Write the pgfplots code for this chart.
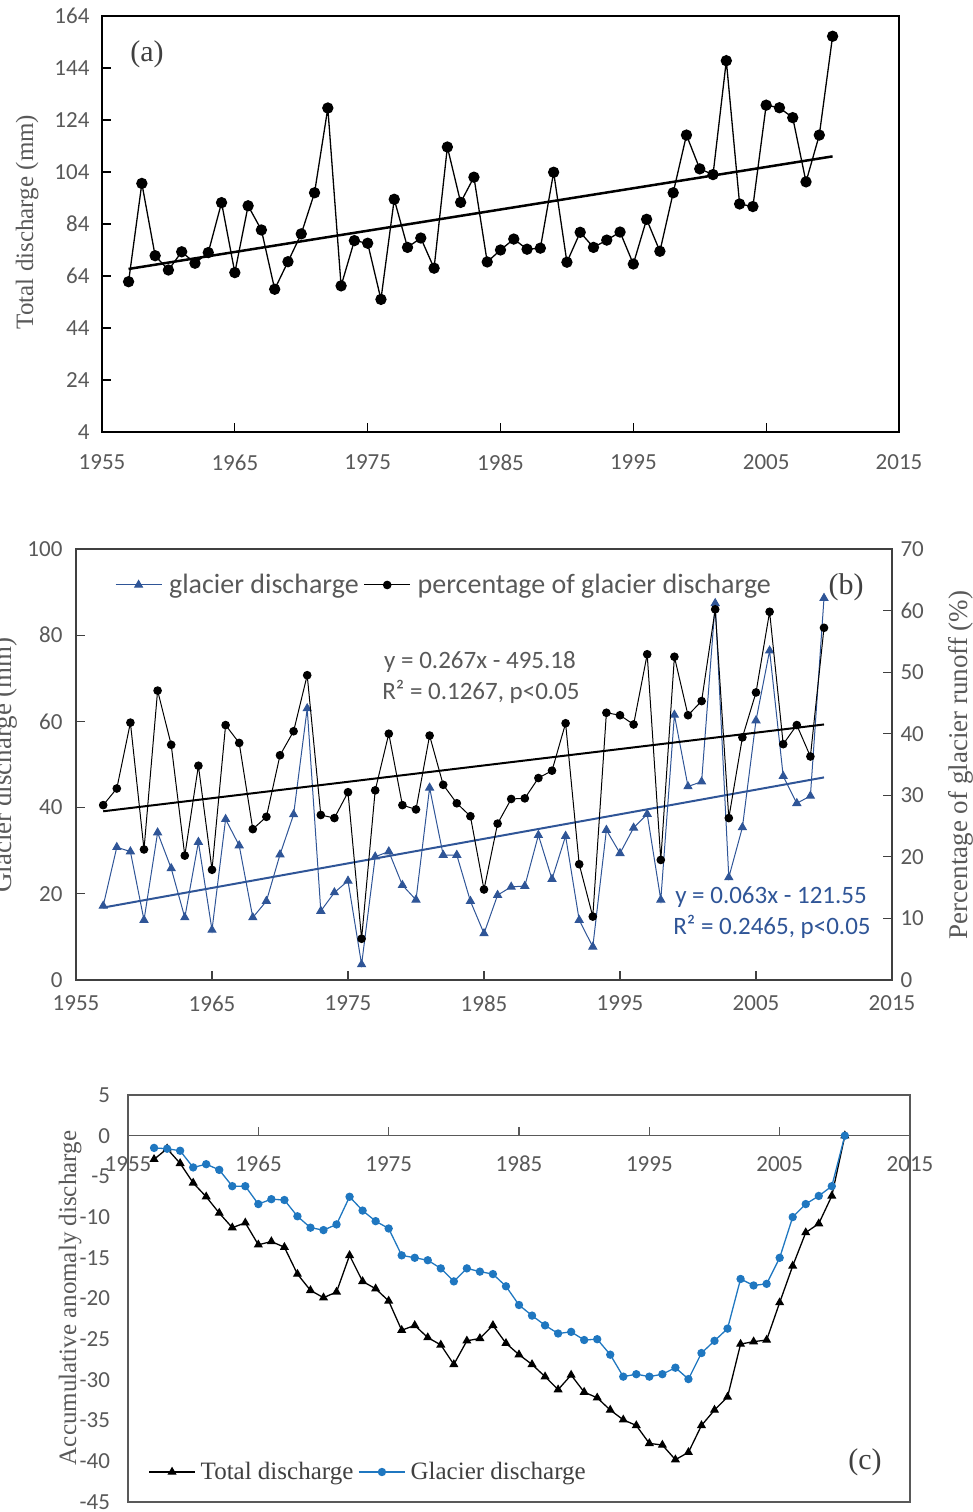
\documentclass[border=0pt]{standalone}
\usepackage{fontspec}
\setmainfont{Liberation Serif}
\newfontfamily\carlito{Carlito}
\usepackage{pgfplots}
\pgfplotsset{compat=1.18}
\definecolor{tg}{HTML}{595959}
\definecolor{dg}{HTML}{404040}
\definecolor{bb}{HTML}{2F5597}
\definecolor{cb}{HTML}{1F77C0}
\pgfplotsset{
 common/.style={scale only axis, anchor=south west, xmin=1955, xmax=2015,
   xtick={1955,1965,...,2015}, tick align=inside,
   /pgf/number format/assume math mode=true, /pgf/number format/1000 sep={},
   tick label style={font=\carlito\fontsize{23}{27}\selectfont, text=tg},
   major tick length=9pt, clip=false},
 legimg/.style={legend image code/.code={\draw[mark repeat=2,mark phase=2,##1] plot coordinates {(0pt,0pt) (23pt,0pt) (46pt,0pt)};}},
}
\begin{document}
\begin{tikzpicture}
\path[use as bounding box] (0,0) rectangle (973pt,1512pt);
% ---------- (a)
\begin{axis}[common, at={(102pt,1080pt)}, width=797pt, height=416pt,
  ymin=4, ymax=164, ytick={4,24,...,164}, xtick pos=bottom, ytick pos=left,
  axis line style={black, line width=1.2pt}, tick style={black, line width=1.2pt},
  xticklabel style={yshift=-19pt}, yticklabel style={xshift=-9pt}]
\addplot[black, line width=1.3pt, mark=*, mark size=5pt] coordinates {
(1957,61.8) (1958,99.6) (1959,71.8) (1960,66.3) (1961,73.3) (1962,68.9) (1963,73.0) (1964,92.2) (1965,65.3) (1966,91.0)
(1967,81.7) (1968,58.9) (1969,69.5) (1970,80.2) (1971,96.0) (1972,128.6) (1973,60.2) (1974,77.6) (1975,76.6) (1976,55.0)
(1977,93.5) (1978,75.0) (1979,78.6) (1980,67.0) (1981,113.6) (1982,92.3) (1983,102.0) (1984,69.4) (1985,74.0) (1986,78.2)
(1987,74.3) (1988,74.7) (1989,103.9) (1990,69.3) (1991,80.8) (1992,75.0) (1993,77.8) (1994,80.9) (1995,68.6) (1996,85.8)
(1997,73.5) (1998,96.0) (1999,118.2) (2000,105.2) (2001,103.0) (2002,146.8) (2003,91.7) (2004,90.7) (2005,129.7) (2006,128.7)
(2007,124.9) (2008,100.2) (2009,118.2) (2010,156.2)};
\addplot[black, line width=2.5pt] coordinates {(1957,66.7) (2010,110.0)};
\end{axis}
% ---------- (b) left axis
\begin{axis}[common, at={(76pt,532pt)}, width=816pt, height=431pt,
  ymin=0, ymax=100, ytick={0,20,...,100}, xtick pos=bottom, ytick pos=left,
  axis line style={dg, line width=1.2pt}, tick style={dg, line width=1.2pt},
  xticklabel style={yshift=-12pt}, yticklabel style={xshift=-10pt}]
\addplot[bb, line width=1pt, mark=triangle*, mark size=4.5pt] coordinates {
(1957,17.2) (1958,30.8) (1959,29.8) (1960,13.9) (1961,34.2) (1962,25.9) (1963,14.5) (1964,32.0) (1965,11.6) (1966,37.3)
(1967,31.2) (1968,14.5) (1969,18.3) (1970,29.1) (1971,38.4) (1972,63.0) (1973,16.0) (1974,20.3) (1975,23.0) (1976,3.6)
(1977,28.6) (1978,29.8) (1979,22.0) (1980,18.6) (1981,44.6) (1982,29.0) (1983,29.0) (1984,18.3) (1985,10.8) (1986,19.7)
(1987,21.6) (1988,21.8) (1989,33.6) (1990,23.4) (1991,33.4) (1992,13.9) (1993,7.7) (1994,34.8) (1995,29.4) (1996,35.3)
(1997,38.5) (1998,18.6) (1999,61.5) (2000,44.9) (2001,46.0) (2002,87.4) (2003,23.8) (2004,35.4) (2005,60.2) (2006,76.4)
(2007,47.3) (2008,41.0) (2009,42.7) (2010,88.6)};
\addplot[bb, line width=2pt] coordinates {(1957,16.8) (2010,47.0)};
\end{axis}
% ---------- (b) right axis
\begin{axis}[common, at={(76pt,532pt)}, width=816pt, height=431pt,
  ymin=0, ymax=70, ytick={0,10,...,70}, axis x line=none, axis y line*=right,
  axis line style={dg, line width=1.2pt}, tick style={dg, line width=1.2pt},
  yticklabel style={xshift=5pt}, legimg,
  legend columns=2,
  legend style={draw=none, fill=none, at={(0.044,0.9165)}, anchor=west,
    font=\carlito\fontsize{28}{32}\selectfont, text=tg,
    /tikz/every odd column/.append style={column sep=5pt},
    /tikz/every even column/.append style={column sep=3pt}}]
\addlegendimage{bb, line width=1pt, mark=triangle*, mark size=4.5pt}
\addlegendentry{glacier discharge}
\addplot[black, line width=1pt, mark=*, mark size=3.8pt] coordinates {
(1957,28.4) (1958,31.1) (1959,41.8) (1960,21.2) (1961,47.0) (1962,38.2) (1963,20.2) (1964,34.8) (1965,17.9) (1966,41.4)
(1967,38.5) (1968,24.5) (1969,26.5) (1970,36.5) (1971,40.4) (1972,49.5) (1973,26.8) (1974,26.3) (1975,30.5) (1976,6.7)
(1977,30.8) (1978,40.0) (1979,28.4) (1980,27.7) (1981,39.7) (1982,31.7) (1983,28.7) (1984,26.6) (1985,14.7) (1986,25.4)
(1987,29.4) (1988,29.5) (1989,32.8) (1990,34.0) (1991,41.7) (1992,18.8) (1993,10.3) (1994,43.4) (1995,43.0) (1996,41.5)
(1997,52.9) (1998,19.5) (1999,52.5) (2000,43.0) (2001,45.3) (2002,60.2) (2003,26.3) (2004,39.4) (2005,46.7) (2006,59.8)
(2007,38.3) (2008,41.4) (2009,36.3) (2010,57.2)};
\addlegendentry{percentage of glacier discharge}
\addplot[black, line width=2pt, forget plot] coordinates {(1957,27.4) (2010,41.5)};
\end{axis}
% ---------- (c)
\begin{axis}[common, at={(128pt,10pt)}, width=782pt, height=407pt,
  ymin=-45, ymax=5, ytick={-45,-40,...,5}, axis x line=middle, axis y line=left,
  xtick align=inside,
  hide obscured x ticks=false, hide obscured y ticks=false,
  axis line style={-, tg, line width=1.2pt}, ytick style={draw=none},
  xtick style={tg, line width=1.2pt},
  xticklabel style={yshift=-17pt}, yticklabel style={xshift=-10pt},
  after end axis/.code={\draw[tg, line width=1.2pt] (rel axis cs:0,0) rectangle (rel axis cs:1,1);},
  legimg, legend columns=2,
  legend style={draw=none, fill=none, at={(0.022,0.0737)}, anchor=west,
    font=\fontsize{25}{29}\selectfont, text=dg,
    /tikz/every odd column/.append style={column sep=3pt},
    /tikz/every even column/.append style={column sep=3pt}}]
\addplot[black, line width=1.3pt, mark=triangle*, mark size=4pt] coordinates {
(1957,-2.9) (1958,-1.6) (1959,-3.4) (1960,-5.8) (1961,-7.5) (1962,-9.5) (1963,-11.3) (1964,-10.7) (1965,-13.4) (1966,-13.0)
(1967,-13.7) (1968,-17.0) (1969,-19.0) (1970,-19.9) (1971,-19.2) (1972,-14.7) (1973,-17.9) (1974,-18.8) (1975,-20.3) (1976,-23.9)
(1977,-23.3) (1978,-24.8) (1979,-25.7) (1980,-28.1) (1981,-25.2) (1982,-24.9) (1983,-23.3) (1984,-25.5) (1985,-26.9) (1986,-28.1)
(1987,-29.6) (1988,-31.2) (1989,-29.4) (1990,-31.5) (1991,-32.2) (1992,-33.7) (1993,-34.9) (1994,-35.6) (1995,-37.8) (1996,-38.0)
(1997,-39.8) (1998,-38.9) (1999,-35.6) (2000,-33.7) (2001,-32.1) (2002,-25.6) (2003,-25.3) (2004,-25.1) (2005,-20.5) (2006,-16.0)
(2007,-11.9) (2008,-10.8) (2009,-7.4) (2010,0)};
\addlegendentry{Total discharge}
\addplot[cb, line width=1.3pt, mark=*, mark size=3.5pt] coordinates {
(1957,-1.5) (1958,-1.6) (1959,-1.85) (1960,-3.9) (1961,-3.5) (1962,-4.2) (1963,-6.2) (1964,-6.2) (1965,-8.4) (1966,-7.8)
(1967,-7.9) (1968,-9.9) (1969,-11.3) (1970,-11.6) (1971,-10.9) (1972,-7.5) (1973,-9.2) (1974,-10.5) (1975,-11.4) (1976,-14.7)
(1977,-15.0) (1978,-15.3) (1979,-16.3) (1980,-17.9) (1981,-16.3) (1982,-16.7) (1983,-17.0) (1984,-18.5) (1985,-20.8) (1986,-22.1)
(1987,-23.3) (1988,-24.3) (1989,-24.1) (1990,-25.1) (1991,-25.0) (1992,-26.9) (1993,-29.6) (1994,-29.3) (1995,-29.6) (1996,-29.3)
(1997,-28.5) (1998,-29.9) (1999,-26.7) (2000,-25.2) (2001,-23.7) (2002,-17.6) (2003,-18.4) (2004,-18.2) (2005,-15.0) (2006,-10.0)
(2007,-8.4) (2008,-7.4) (2009,-6.2) (2010,0)};
\addlegendentry{Glacier discharge}
\end{axis}
% ---------- text
\node[dg, font=\fontsize{30}{34}\selectfont] at (147pt,1458pt) {(a)};
\node[dg, font=\fontsize{30}{34}\selectfont] at (846pt,925pt) {(b)};
\node[dg, font=\fontsize{30}{34}\selectfont] at (865pt,50pt) {(c)};
\node[tg, font=\carlito\fontsize{25}{30}\selectfont] at (480pt,850pt) {y = 0.267x - 495.18};
\node[tg, font=\carlito\fontsize{25}{30}\selectfont] at (481pt,820pt) {R² = 0.1267, p<0.05};
\node[bb, font=\carlito\fontsize{25}{30}\selectfont] at (771pt,615pt) {y = 0.063x - 121.55};
\node[bb, font=\carlito\fontsize{25}{30}\selectfont] at (772pt,585pt) {R² = 0.2465, p<0.05};
\node[tg, rotate=90, anchor=base, font=\fontsize{25}{30}\selectfont] at (33pt,1290pt) {Total discharge (mm)};
\node[tg, rotate=90, anchor=base, font=\fontsize{27}{32}\selectfont] at (11pt,747pt) {Glacier discharge (mm)};
\node[tg, rotate=90, anchor=base, font=\fontsize{27}{32}\selectfont] at (967pt,747pt) {Percentage of glacier runoff (\%)};
\node[tg, rotate=90, anchor=base, font=\fontsize{25}{30}\selectfont] at (76pt,214pt) {Accumulative anomaly discharge};
\end{tikzpicture}
\end{document}
